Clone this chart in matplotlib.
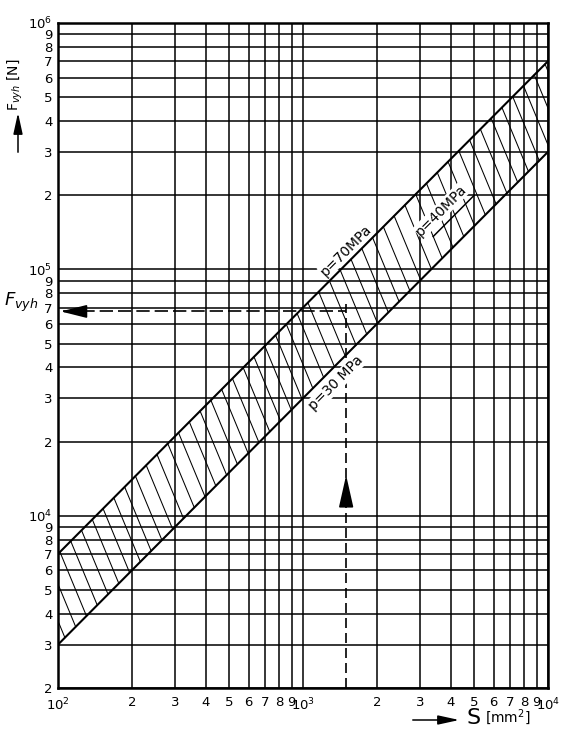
import numpy as np
import matplotlib
matplotlib.use('Agg')
import matplotlib.pyplot as plt

# plošný rozsah S [mm2] a síla F [N]
S_range = [100, 10000]
F_range = [2000, 1e6]

# tlaky, které ohraničují pásmo (MPa) a tlak v popisu uprostřed
p_upper = 70
p_lower = 30
p_mid = 40

# příklad odečtu
S_example = 1500
p_example = 45
arrow_up_F = [1.12e4, 1.5e4]

x_ticks = [m * 10 ** e for e in (2, 3) for m in range(1, 10)] + [1e4]
x_labels = ['$10^2$', '2', '3', '4', '5', '6', '7', '8', '9',
            '$10^3$', '2', '3', '4', '5', '6', '7', '8', '9', '$10^4$']
y_ticks = [m * 10 ** e for e in (3, 4, 5) for m in range(1, 10)][1:] + [1e6]
y_labels = ['2', '3', '4', '5', '6', '7', '8', '9',
            '$10^4$', '2', '3', '4', '5', '6', '7', '8', '9',
            '$10^5$', '2', '3', '4', '5', '6', '7', '8', '9', '$10^6$']

fig = plt.figure(figsize=(5.62, 7.33), dpi=100)
ax = fig.add_axes([58 / 562, 45 / 733, 490 / 562, 665 / 733])
ax.set_xscale('log')
ax.set_yscale('log')
ax.set_xlim(S_range)
ax.set_ylim(F_range)

ax.set_xticks(x_ticks)
ax.set_xticklabels(x_labels)
ax.set_yticks(y_ticks)
ax.set_yticklabels(y_labels)
ax.minorticks_off()
ax.tick_params(length=0, labelsize=9.5, pad=4)
ax.tick_params(axis='x', pad=6)
ax.grid(True, color='black', lw=1.1)
for s in ax.spines.values():
    s.set_linewidth(1.8)

# hranice pásma
S = np.array(S_range, dtype=float)
ax.plot(S, p_upper * S, color='black', lw=1.5)
ax.plot(S, p_lower * S, color='black', lw=1.5)

# šrafování pásma (v log souřadnicích)
k = 2.4
gap = np.log10(p_upper / p_lower)
t = gap / (1 + k)
for u in np.arange(1.7, 4.05, 0.044):
    xs = [10 ** u, 10 ** (u + t)]
    ys = [10 ** (u + np.log10(p_upper)), 10 ** (u + np.log10(p_upper) - k * t)]
    ax.plot(xs, ys, color='black', lw=0.75)

# úhel popisků
fig.canvas.draw()
a = ax.transData.transform((S_range[0], p_upper * S_range[0]))
b = ax.transData.transform((S_range[1], p_upper * S_range[1]))
ang = np.degrees(np.arctan2(b[1] - a[1], b[0] - a[0]))

box = dict(facecolor='white', edgecolor='none', pad=0.6)
ax.annotate('p=70MPa', xy=(1600, p_upper * 1600), xytext=(-7, 7),
            textcoords='offset pixels', rotation=ang, ha='center', va='center',
            fontsize=10, bbox=box)
S_mid = np.geomspace(3400, 5000, 5)
ax.plot(S_mid, p_mid * S_mid, color='black', lw=1.1)
ax.annotate('p=40MPa', xy=(4000, p_mid * 4000), xytext=(-9, 9),
            textcoords='offset pixels', rotation=ang, ha='center', va='center',
            fontsize=10, bbox=box)
ax.annotate('p=30 MPa', xy=(1250, p_lower * 1250), xytext=(9, -9),
            textcoords='offset pixels', rotation=ang, ha='center', va='center',
            fontsize=10, bbox=box)

# příklad: S -> F
F_example = S_example * p_example
ax.plot([S_example, S_example], [F_range[0], F_example * 1.07], color='black',
        lw=1.2, dashes=(6, 3))
ax.plot([S_range[0] * 1.05, S_example], [F_example, F_example], color='black',
        lw=1.2, dashes=(8, 3))
ax.annotate('', xy=(S_range[0], F_example), xytext=(S_range[0] * 1.3, F_example),
            arrowprops=dict(arrowstyle='-|>,head_length=1.6,head_width=0.4',
                            color='black', lw=1.2, mutation_scale=10))
ax.annotate('', xy=(S_example, arrow_up_F[1]), xytext=(S_example, arrow_up_F[0]),
            arrowprops=dict(arrowstyle='-|>,head_length=2.0,head_width=0.45',
                            color='black', lw=1.2, mutation_scale=10))

# popisy os
fig.text(15 / 562, 1 - 85 / 733, 'F$_{vyh}$ [N]', rotation=90, ha='center',
         va='center', fontsize=10)
fig.patches.append(matplotlib.patches.FancyArrowPatch(
    (18 / 562, 1 - 155 / 733), (18 / 562, 1 - 110 / 733),
    transform=fig.transFigure, arrowstyle='-|>,head_length=1.6,head_width=0.35',
    mutation_scale=8, color='black', lw=1.1))
fig.text(4 / 562, 1 - 302 / 733, '$F_{vyh}$', ha='left', va='center',
         fontsize=13)
fig.patches.append(matplotlib.patches.FancyArrowPatch(
    (410 / 562, 1 - 720 / 733), (462 / 562, 1 - 720 / 733),
    transform=fig.transFigure, arrowstyle='-|>,head_length=1.6,head_width=0.35',
    mutation_scale=8, color='black', lw=1.1))
fig.text(466 / 562, 1 - 718 / 733, 'S', ha='left', va='center', fontsize=16)
fig.text(485 / 562, 1 - 717 / 733, '[mm$^2$]', ha='left', va='center',
         fontsize=10)

fig.savefig('out.png', dpi=100, facecolor='white')
